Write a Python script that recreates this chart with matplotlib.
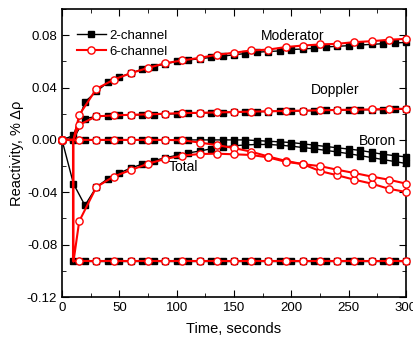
import matplotlib
matplotlib.use("Agg")
import matplotlib.pyplot as plt
from matplotlib.ticker import MultipleLocator, FormatStrFormatter

plt.rcParams['font.family'] = ['Liberation Sans', 'DejaVu Sans']
plt.rcParams['axes.unicode_minus'] = False

# 2-channel model, sampled every 10 s
t2 = list(range(0, 301, 10))
mod2 = [0, 0.0034, 0.029, 0.037, 0.044, 0.048, 0.051, 0.054, 0.056, 0.058, 0.060,
        0.061, 0.062, 0.063, 0.064, 0.065, 0.066, 0.067, 0.0675, 0.068, 0.069,
        0.0695, 0.070, 0.071, 0.0715, 0.072, 0.0725, 0.073, 0.0735, 0.074, 0.0745]
dop2 = [0, 0.001, 0.0162, 0.018, 0.0185, 0.0188, 0.019, 0.0192, 0.0194, 0.0197, 0.020,
        0.0203, 0.0205, 0.0207, 0.0209, 0.0211, 0.0213, 0.0215, 0.0217, 0.0219, 0.0221,
        0.0222, 0.0224, 0.0225, 0.0227, 0.0228, 0.0230, 0.0231, 0.0232, 0.0234, 0.0235]
bor2 = [0, 0, 0, 0, 0, 0, 0, 0, 0, 0, 0,
        0, 0, 0, 0, 0, 0, -0.0005, -0.001, -0.0015, -0.002,
        -0.003, -0.004, -0.005, -0.006, -0.007, -0.008, -0.0095, -0.011, -0.012, -0.013]
tot2 = [0, -0.0335, -0.050, -0.036, -0.0296, -0.0253, -0.0215, -0.0185, -0.016, -0.0136, -0.0118,
        -0.010, -0.0085, -0.0068, -0.0055, -0.0045, -0.0038, -0.0035, -0.0035, -0.004, -0.0048,
        -0.0058, -0.0068, -0.008, -0.0092, -0.0105, -0.012, -0.0135, -0.015, -0.0165, -0.018]
t2_rod = t2[1:]
rod2 = [-0.0925] * 30

# 6-channel model, markers every 15 s (step at t = 10 s)
t6 = [0, 10, 10] + list(range(15, 301, 15))
mod6 = [0, 0, 0, 0.019, 0.039, 0.046, 0.051, 0.055, 0.0586, 0.0607, 0.0627, 0.065,
        0.0666, 0.0683, 0.069, 0.0709, 0.0721, 0.0729, 0.0734, 0.0747, 0.0754, 0.0765, 0.0772]
dop6 = [0, 0, 0, 0.0116, 0.018, 0.0187, 0.0192, 0.0195, 0.020, 0.0205, 0.0207, 0.021,
        0.0213, 0.0216, 0.0219, 0.0221, 0.0224, 0.0226, 0.0229, 0.0231, 0.0233, 0.0236, 0.0238]
bor6 = [0, 0, 0, 0, 0, 0, 0, 0, 0, -0.0003, -0.002, -0.004,
        -0.0062, -0.009, -0.0127, -0.016, -0.0185, -0.0238, -0.027, -0.0304, -0.0334, -0.0373, -0.0398]
tot6 = [0, 0, -0.093, -0.0622, -0.036, -0.028, -0.023, -0.0182, -0.0145, -0.012, -0.0108, -0.0105,
        -0.011, -0.0115, -0.0134, -0.0167, -0.0185, -0.020, -0.0228, -0.0253, -0.028, -0.0304, -0.0334]
rod6 = [0, 0] + [-0.0925] * 21

marks6 = [0] + list(range(3, len(t6)))

fig = plt.figure(figsize=(4.14, 3.40), dpi=100)
ax = fig.add_axes([62 / 414, 1 - 297 / 340, 344 / 414, 288 / 340])

black = dict(color="black", lw=1.0, marker="s", ms=4.5, mfc="black", mec="black",
             zorder=2, clip_on=False)
ax.plot(t2, mod2, label="2-channel", **black)
ax.plot(t2, dop2, **black)
ax.plot(t2, bor2, **black)
ax.plot(t2, tot2, **black)
ax.plot(t2_rod, rod2, **black)

for i, y in enumerate([mod6, dop6, bor6, tot6, rod6]):
    ax.plot(t6, y, color="red", lw=1.5, marker="o", ms=5.2, mfc="white", mec="red", mew=1.0,
            markevery=marks6, label="6-channel" if i == 0 else None, zorder=3, clip_on=False)

ax.text(201, 0.079, "Moderator", ha="center", va="center", fontsize=10)
ax.text(238, 0.038, "Doppler", ha="center", va="center", fontsize=10)
ax.text(275, -0.001, "Boron", ha="center", va="center", fontsize=10)
ax.text(106, -0.021, "Total", ha="center", va="center", fontsize=10)

ax.set_xlim(0, 300)
ax.set_ylim(-0.12, 0.10)
ax.xaxis.set_major_locator(MultipleLocator(50))
ax.xaxis.set_minor_locator(MultipleLocator(25))
ax.yaxis.set_major_locator(MultipleLocator(0.04))
ax.yaxis.set_minor_locator(MultipleLocator(0.02))
ax.yaxis.set_major_formatter(FormatStrFormatter("%.2f"))
ax.tick_params(which="both", direction="in", top=True, right=True, labelsize=9.5)
ax.tick_params(which="major", length=5)
ax.tick_params(which="minor", length=3)
for s in ax.spines.values():
    s.set_linewidth(1.2)

ax.set_xlabel("Time, seconds", fontsize=10.5, labelpad=6)
ax.set_ylabel("Reactivity, % \u0394\u03c1", fontsize=10.5, labelpad=2)

ax.legend(loc="upper left", bbox_to_anchor=(0.02, 0.955), frameon=False, fontsize=9.5,
          handlelength=2.2, handletextpad=0.3, labelspacing=0.25, borderaxespad=0.2)

fig.savefig("out.png", dpi=100)
